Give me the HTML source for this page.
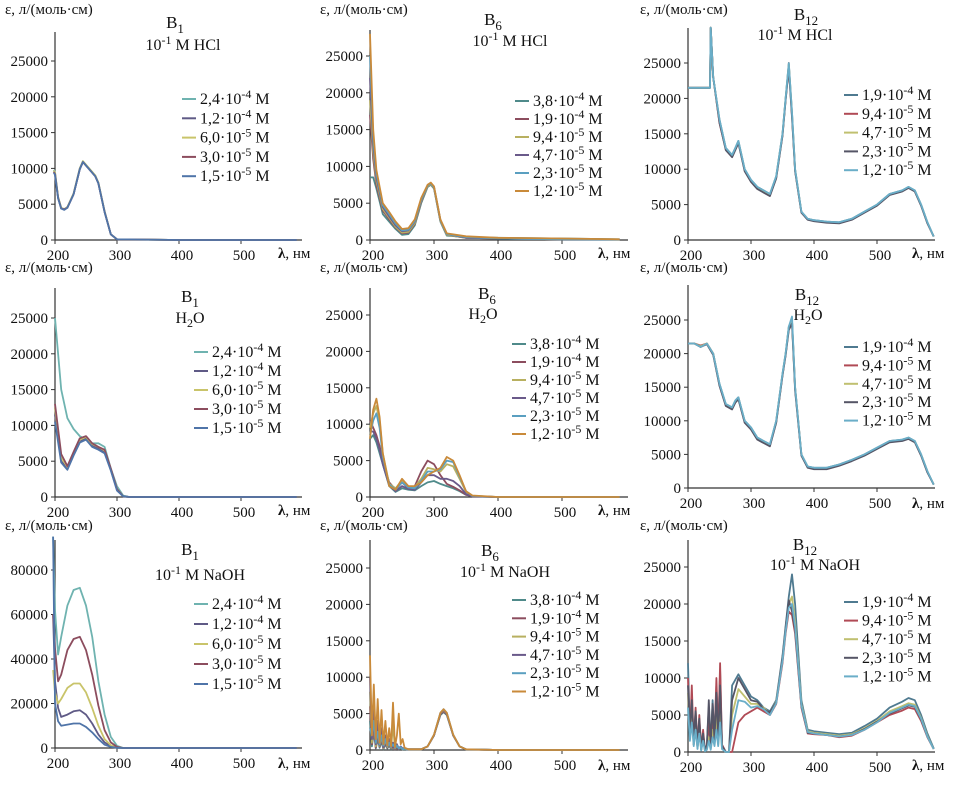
<!DOCTYPE html>
<html><head><meta charset="utf-8">
<style>
body{margin:0;background:#fff;}
svg{display:block;font-family:"Liberation Serif",serif;}
text{fill:#111;}
</style></head>
<body>
<svg id="chart" width="963" height="797" viewBox="0 0 963 797" xmlns="http://www.w3.org/2000/svg"></svg>
<script>
// ---------- DATA ----------
const xTicks = [200,300,400,500];
const yTicksStd = [0,5000,10000,15000,20000,25000];
const yTicksNaOH = [0,20000,40000,60000,80000];
const concB1 = ["2,4·10<tspan dy='-6' font-size='12'>-4</tspan><tspan dy='6'> M</tspan>","1,2·10<tspan dy='-6' font-size='12'>-4</tspan><tspan dy='6'> M</tspan>","6,0·10<tspan dy='-6' font-size='12'>-5</tspan><tspan dy='6'> M</tspan>","3,0·10<tspan dy='-6' font-size='12'>-5</tspan><tspan dy='6'> M</tspan>","1,5·10<tspan dy='-6' font-size='12'>-5</tspan><tspan dy='6'> M</tspan>"];
const concB6 = ["3,8·10<tspan dy='-6' font-size='12'>-4</tspan><tspan dy='6'> M</tspan>","1,9·10<tspan dy='-6' font-size='12'>-4</tspan><tspan dy='6'> M</tspan>","9,4·10<tspan dy='-6' font-size='12'>-5</tspan><tspan dy='6'> M</tspan>","4,7·10<tspan dy='-6' font-size='12'>-5</tspan><tspan dy='6'> M</tspan>","2,3·10<tspan dy='-6' font-size='12'>-5</tspan><tspan dy='6'> M</tspan>","1,2·10<tspan dy='-6' font-size='12'>-5</tspan><tspan dy='6'> M</tspan>"];
const concB12 = ["1,9·10<tspan dy='-6' font-size='12'>-4</tspan><tspan dy='6'> M</tspan>","9,4·10<tspan dy='-6' font-size='12'>-5</tspan><tspan dy='6'> M</tspan>","4,7·10<tspan dy='-6' font-size='12'>-5</tspan><tspan dy='6'> M</tspan>","2,3·10<tspan dy='-6' font-size='12'>-5</tspan><tspan dy='6'> M</tspan>","1,2·10<tspan dy='-6' font-size='12'>-5</tspan><tspan dy='6'> M</tspan>"];
const colB1 = ["#6fb3b0","#5f5a86","#c9c46a","#8c4d5e","#4f74a8"];
const colB6 = ["#4f8a8a","#8c4d5e","#b8b060","#6a5a8a","#5a9fc0","#c98a3a"];
const colB12 = ["#4f7a90","#b04a55","#c0c070","#555566","#6aaec8"];

// B1 HCl
const wlB1HCl = [198,200,205,210,215,220,230,240,245,250,260,265,270,280,290,300,350,400,500,590];
const sB1HCl = [
 [9800,9500,6000,4500,4300,4600,6500,10000,11000,10500,9500,9000,8000,4000,800,100,50,0,0,0],
 [9600,9300,5900,4400,4300,4600,6400,9900,10900,10400,9400,8900,7900,4000,800,100,50,0,0,0],
 [9700,9400,6000,4500,4300,4600,6500,10000,11000,10500,9500,9000,8000,4000,800,100,50,0,0,0],
 [9500,9200,5900,4400,4300,4500,6400,9900,10900,10400,9400,8900,7900,3900,800,100,50,0,0,0],
 [9400,9100,5800,4400,4200,4500,6400,9900,10900,10400,9400,8900,7900,3900,800,100,50,0,0,0]];
// B6 HCl
const wlB6HCl = [200,205,210,220,230,240,250,260,270,280,290,295,300,310,320,350,400,500,590];
const sB6HCl = [
 [8500,8500,7000,3500,2500,1500,700,800,2000,5000,7200,7500,7000,2500,600,400,300,200,100],
 [17000,11000,7500,4000,2800,1700,900,1000,2200,5200,7300,7600,7100,2600,700,300,200,100,50],
 [19000,12000,8000,4200,3000,1800,1000,1100,2300,5300,7300,7600,7100,2600,700,300,200,100,50],
 [22000,13000,8500,4500,3200,2000,1200,1300,2500,5400,7400,7700,7200,2700,800,300,200,100,50],
 [25000,14000,9000,4700,3500,2200,1300,1400,2600,5500,7400,7700,7200,2700,800,400,200,100,50],
 [28000,15000,9500,5000,3800,2500,1500,1600,2800,5700,7500,7800,7300,2800,900,500,300,200,100]];
// B12 HCl
const wlB12HCl = [200,210,220,230,235,236,240,250,260,270,275,280,290,300,310,320,330,340,350,355,360,365,370,380,390,400,420,440,460,480,500,520,540,550,560,570,580,590];
const sB12HCl = [
 [21500,21500,21500,21500,21500,30000,23000,17000,13000,12000,13000,14000,10000,8500,7500,7000,6500,9000,15000,20000,25000,18000,10000,4000,3000,2800,2600,2500,3000,4000,5000,6500,7000,7500,7000,5000,2500,500],
 [21500,21500,21500,21500,21500,30000,23000,16500,12800,11800,12800,13800,9800,8300,7300,6800,6300,8800,14800,19800,24500,17500,9800,3900,2900,2700,2500,2400,2900,3900,4900,6400,6900,7400,6900,4900,2400,500],
 [21500,21500,21500,21500,21500,30000,23000,16800,12900,11900,12900,13900,9900,8400,7400,6900,6400,8900,14900,19900,24800,17800,9900,3950,2950,2750,2550,2450,2950,3950,4950,6450,6950,7450,6950,4950,2450,500],
 [21500,21500,21500,21500,21500,30000,23000,16600,12700,11700,12700,13700,9700,8200,7200,6700,6200,8700,14700,19700,24300,17300,9700,3850,2850,2650,2450,2350,2850,3850,4850,6350,6850,7350,6850,4850,2350,500],
 [21500,21500,21500,21500,21500,30000,23000,17000,13000,12000,13000,14000,10000,8500,7500,7000,6500,9000,15000,20000,24900,18000,10000,4000,3000,2800,2600,2500,3000,4000,5000,6500,7000,7500,7000,5000,2500,500]];
// B1 H2O
const wlB1H2O = [200,210,220,230,240,250,260,270,280,290,300,310,320,400,590];
const sB1H2O = [
 [25000,15000,11000,9500,8500,8000,7500,7500,7000,4000,1500,200,0,0,0],
 [11500,5000,4000,6000,7800,8200,7200,6800,6300,3800,1000,100,0,0,0],
 [12500,5500,4200,6200,8000,8400,7400,7000,6500,3900,1000,100,0,0,0],
 [13000,6000,4300,6300,8200,8500,7500,7000,6600,4000,1100,100,0,0,0],
 [10500,4800,3800,5800,7600,8000,7000,6600,6100,3700,900,100,0,0,0]];
// B6 H2O
const wlB6H2O = [200,205,210,215,220,230,240,250,260,270,280,290,300,310,320,330,340,350,360,400,590];
const sB6H2O = [
 [8000,8500,7500,6000,4500,1500,700,1200,1000,900,1500,2000,2200,1800,1500,1200,800,300,100,0,0],
 [10500,9500,8500,7000,5000,2000,1000,2000,1200,1500,3500,5000,4500,3000,1800,1400,900,300,100,0,0],
 [9500,11500,12500,10500,6000,1800,1200,2300,1400,1400,2500,4000,3800,3500,4500,4200,2500,700,150,0,0],
 [9000,9000,8000,6500,4500,1600,800,1500,1100,1000,2000,3000,3000,2500,2500,2200,1500,400,100,0,0],
 [8500,10500,11500,9500,5500,1700,1000,2000,1300,1200,2200,3500,3500,3800,5000,4800,2800,800,150,0,0],
 [8000,12000,13500,11000,6000,1500,1000,2500,1500,1500,2000,3000,3500,4000,5500,5000,3000,800,200,0,0]];
// B12 H2O
const wlB12H2O = [200,210,220,230,240,250,260,270,275,280,290,300,310,320,330,340,350,355,360,365,370,380,390,400,420,440,460,480,500,520,540,550,560,570,580,590];
const sB12H2O = [
 [21500,21500,21000,21500,20000,15500,12500,12000,13000,13500,10000,9000,7500,7000,6500,10000,17000,20000,24000,25000,15000,5000,3200,3000,3000,3500,4200,5000,6000,7000,7200,7500,7000,5000,2500,500],
 [21500,21500,21200,21500,20000,15300,12300,11800,12800,13300,9800,8800,7300,6800,6300,9800,16800,19800,23800,24800,14800,4900,3100,2900,2900,3400,4100,4900,5900,6900,7100,7400,6900,4900,2400,500],
 [21500,21500,21100,21500,20000,15400,12400,11900,12900,13400,9900,8900,7400,6900,6400,9900,16900,19900,23900,24900,14900,4950,3150,2950,2950,3450,4150,4950,5950,6950,7150,7450,6950,4950,2450,500],
 [21500,21500,21000,21400,19800,15200,12200,11700,12700,13200,9700,8700,7200,6700,6200,9700,16700,19700,23500,24500,14500,4800,3000,2800,2800,3300,4000,4800,5800,6800,7000,7300,6800,4800,2300,500],
 [21500,21500,21000,21500,20000,15500,12500,12000,13000,13500,10000,9000,7500,7000,6500,10000,17000,20000,24000,25500,15000,5000,3200,3000,3000,3500,4200,5000,6000,7000,7200,7500,7000,5000,2500,500]];
// B1 NaOH
const wlB1NaOH = [197,200,205,210,220,230,240,250,260,270,280,290,300,310,400,590];
const sB1NaOH = [
 [95000,62000,42000,50000,64000,71000,72000,64000,50000,30000,15000,5000,1000,0,0,0],
 [60000,30000,18000,14000,15000,16500,17000,15000,11000,6000,2500,800,200,0,0,0],
 [35000,25000,20000,22000,27000,29000,29000,25000,18000,10000,4000,1200,300,0,0,0],
 [60000,45000,30000,33000,44000,49000,50000,44000,33000,19000,8000,2500,500,0,0,0],
 [95000,20000,12000,10000,10500,11000,11000,9500,7000,4000,1500,500,100,0,0,0]];
// B6 NaOH
const wlB6NaOH = [200,203,206,209,212,215,218,221,224,227,230,233,236,239,242,245,248,251,254,257,260,270,280,290,300,310,315,320,330,340,350,400,590];
const sB6NaOH = [
 [4000,500,2500,200,1500,300,1200,100,800,200,600,100,400,100,300,100,200,100,100,100,100,100,100,500,2000,4800,5200,4800,2000,500,100,0,0],
 [6000,800,3000,300,2000,500,1500,200,1000,300,800,200,500,100,400,100,300,100,200,100,100,100,100,500,2000,4900,5300,4900,2000,500,100,0,0],
 [8000,1000,5000,500,3000,600,2000,300,1500,400,1000,300,3500,200,600,200,400,100,200,100,100,100,100,500,2000,5000,5400,5000,2000,500,100,0,0],
 [10000,1500,6000,800,4000,700,3000,400,2000,500,1500,400,1000,300,800,200,500,200,300,100,100,100,100,500,2000,5000,5500,5000,2000,500,100,0,0],
 [3000,2000,4000,1000,2500,800,2000,600,1500,500,1000,400,800,300,600,200,400,100,200,100,100,100,100,500,2100,5100,5600,5100,2100,500,100,0,0],
 [13000,2000,9000,1500,7000,1000,5500,800,4000,600,3000,500,6500,400,2000,5000,800,1500,300,200,100,100,100,500,2100,5100,5600,5100,2100,500,100,0,0]];
// B12 NaOH
const wlB12NaOH = [200,203,206,209,212,215,218,221,224,227,230,233,236,239,242,245,248,251,254,260,265,270,280,290,300,310,320,330,340,350,355,360,365,370,380,390,400,420,440,460,480,500,520,540,550,560,570,580,590];
const sB12NaOH = [
 [12000,3000,6000,1000,5000,500,4000,300,2000,200,1000,6000,1000,7000,2000,9000,2000,11000,1000,0,0,9000,10500,9000,7500,7000,6000,5500,7000,13000,17000,21000,24000,20000,7000,3000,2800,2600,2400,2600,3500,4500,6000,6800,7300,7000,5000,2500,500],
 [10000,2000,9000,1000,6000,500,5000,300,3000,200,500,4000,500,5000,1500,10000,2000,12000,1000,0,0,0,4000,5000,5500,6000,5500,5000,6500,12000,16000,19000,18500,16000,6000,2500,2400,2300,2000,2200,3000,4000,5000,5600,6000,5800,4200,2000,400],
 [8000,2000,5000,1000,4000,500,3000,300,2000,200,500,2000,500,3000,1000,5000,1000,6000,500,0,0,5000,8500,7500,6500,6500,6000,5200,6800,12500,16500,20000,21000,17500,6500,2800,2600,2400,2200,2400,3200,4200,5500,6200,6600,6400,4600,2200,400],
 [9000,2500,7000,1500,5500,800,4500,500,2500,300,800,7000,800,6500,1500,8000,1500,9000,800,0,0,7000,10000,8500,7000,6800,5800,5300,6700,12700,16700,20500,19000,16500,6200,2600,2500,2300,2100,2300,3100,4100,5200,5900,6300,6100,4400,2100,400],
 [6000,1500,4000,800,3000,400,2500,200,1500,100,300,1500,300,2000,800,3000,800,4000,400,0,0,3000,7000,6800,6000,6200,5800,5000,6600,12300,16300,19500,20000,17000,6300,2700,2500,2300,2100,2300,3000,4000,5300,6000,6400,6200,4500,2100,400]];

// ---------- PANELS ----------
const panels = [
 {name:"b1-hcl",wl:wlB1HCl,s:sB1HCl,cols:colB1,leg:concB1,x0:55,kx:62,y0:240,yT:61,vT:25000,yticks:yTicksStd,xEnd:302,aTop:32,sub:"1",solv:"hcl",tx:175,ty:28,sx:183,sy:50,lx:200,ly:104,ld:19.3,yl:[5,14],xl:[278,258]},
 {name:"b6-hcl",wl:wlB6HCl,s:sB6HCl,cols:colB6,leg:concB6,x0:370,kx:64,y0:240,yT:56,vT:25000,yticks:yTicksStd,xEnd:628,aTop:30,sub:"6",solv:"hcl",tx:493,ty:25,sx:510,sy:46,lx:533,ly:106,ld:18,yl:[320,14],xl:[598,258]},
 {name:"b12-hcl",wl:wlB12HCl,s:sB12HCl,cols:colB12,leg:concB12,x0:688,kx:63,y0:240,yT:63,vT:25000,yticks:yTicksStd,xEnd:935,aTop:28,sub:"12",solv:"hcl",tx:806,ty:20,sx:795,sy:40,lx:862,ly:100,ld:18.8,yl:[640,14],xl:[912,258]},
 {name:"b1-h2o",wl:wlB1H2O,s:sB1H2O,cols:colB1,leg:concB1,x0:55,kx:62,y0:497,yT:318,vT:25000,yticks:yTicksStd,xEnd:302,aTop:288,sub:"1",solv:"h2o",tx:190,ty:302,sx:190,sy:323,lx:212,ly:357,ld:19,yl:[5,272],xl:[278,515]},
 {name:"b6-h2o",wl:wlB6H2O,s:sB6H2O,cols:colB6,leg:concB6,x0:370,kx:64,y0:497,yT:315,vT:25000,yticks:yTicksStd,xEnd:628,aTop:288,sub:"6",solv:"h2o",tx:487,ty:299,sx:483,sy:319,lx:530,ly:349,ld:18,yl:[320,272],xl:[598,515]},
 {name:"b12-h2o",wl:wlB12H2O,s:sB12H2O,cols:colB12,leg:concB12,x0:688,kx:63,y0:488,yT:320,vT:25000,yticks:yTicksStd,xEnd:935,aTop:285,sub:"12",solv:"h2o",tx:807,ty:300,sx:808,sy:320,lx:862,ly:352,ld:18.4,yl:[640,272],xl:[912,508]},
 {name:"b1-naoh",wl:wlB1NaOH,s:sB1NaOH,cols:colB1,leg:concB1,x0:55,kx:62,y0:748,yT:570,vT:80000,yticks:yTicksNaOH,xEnd:302,aTop:540,sub:"1",solv:"naoh",tx:190,ty:555,sx:200,sy:580,lx:212,ly:609,ld:20,yl:[5,530],xl:[278,768]},
 {name:"b6-naoh",wl:wlB6NaOH,s:sB6NaOH,cols:colB6,leg:concB6,x0:370,kx:64,y0:750,yT:568,vT:25000,yticks:yTicksStd,xEnd:628,aTop:540,sub:"6",solv:"naoh",tx:490,ty:556,sx:505,sy:577,lx:530,ly:605,ld:18.3,yl:[320,530],xl:[598,770]},
 {name:"b12-naoh",wl:wlB12NaOH,s:sB12NaOH,cols:colB12,leg:concB12,x0:688,kx:63,y0:752,yT:567,vT:25000,yticks:yTicksStd,xEnd:935,aTop:540,sub:"12",solv:"naoh",tx:805,ty:550,sx:815,sy:570,lx:862,ly:607,ld:18.6,yl:[640,530],xl:[912,770]}
];

const NS="http://www.w3.org/2000/svg";
const svg=document.getElementById('chart');
function mk(tag,attrs,parent){const e=document.createElementNS(NS,tag);for(const k in attrs)e.setAttribute(k,attrs[k]);parent.appendChild(e);return e;}

panels.forEach(p=>{
  const g=mk('g',{},svg);
  
  
  const X=w=>p.x0+(w-200)*p.kx/100;
  const Y=v=>p.y0-(v/p.vT)*(p.y0-p.yT);
  const cid='clip-'+p.name;
  const cp=mk('clipPath',{id:cid},g);
  mk('rect',{x:p.x0-6,y:p.aTop-6,width:p.xEnd-p.x0+10,height:p.y0-p.aTop+7},cp);
  const ya=mk('line',{x1:p.x0,y1:p.aTop,x2:p.x0,y2:p.y0,stroke:'#333','stroke-width':1.2},g);
  
  
  const xa=mk('line',{x1:p.x0,y1:p.y0,x2:p.xEnd,y2:p.y0,stroke:'#333','stroke-width':1.2},g);
  
  
  p.yticks.forEach(v=>{
    mk('line',{x1:p.x0-4,y1:Y(v),x2:p.x0,y2:Y(v),stroke:'#333'},g);
    const t=mk('text',{x:p.x0-7,y:Y(v)+5,'text-anchor':'end','font-size':15},g);
    t.textContent=v;
    
    
  });
  xTicks.forEach(w=>{
    mk('line',{x1:X(w),y1:p.y0,x2:X(w),y2:p.y0+4,stroke:'#333'},g);
    const t=mk('text',{x:X(w)+3,y:p.y0+20,'text-anchor':'middle','font-size':15},g);
    t.textContent=w;
    
    
  });
  const sg=mk('g',{'clip-path':'url(#'+cid+')'},g);
  p.s.forEach((vals,i)=>{
    const d=vals.map((v,j)=>(j?'L':'M')+X(p.wl[j]).toFixed(1)+','+Y(v).toFixed(1)).join(' ');
    const path=mk('path',{d:d,fill:'none',stroke:p.cols[i],'stroke-width':1.8,'stroke-linejoin':'round'},sg);
    
    
  });
  const yl=mk('text',{x:p.yl[0],y:p.yl[1],'font-size':15},g);
  yl.textContent='ε, л/(моль·см)';
  
  
  const xl=mk('text',{x:p.xl[0],y:p.xl[1],'font-size':15},g);
  xl.innerHTML='<tspan font-weight="bold">λ</tspan>, нм';
  
  
  const tt=mk('text',{x:p.tx,y:p.ty,'font-size':17,'text-anchor':'middle'},g);
  tt.innerHTML='B<tspan dy="5" font-size="13">'+p.sub+'</tspan>';
  
  
  const st=mk('text',{x:p.sx,y:p.sy,'font-size':16,'text-anchor':'middle'},g);
  if(p.solv==='h2o') st.innerHTML='H<tspan dy="4" font-size="12">2</tspan><tspan dy="-4">O</tspan>';
  else st.innerHTML='10<tspan dy="-6" font-size="12">-1</tspan><tspan dy="6"> M '+(p.solv==='hcl'?'HCl':'NaOH')+'</tspan>';
  
  
  p.leg.forEach((lab,i)=>{
    const ly=p.ly+i*p.ld;
    const ll=mk('line',{x1:p.lx-18,y1:ly-5,x2:p.lx-4,y2:ly-5,stroke:p.cols[i],'stroke-width':2},g);
    
    
    const lt=mk('text',{x:p.lx,y:ly,'font-size':16},g);
    lt.innerHTML=lab;
    
    
  });
});
</script>
</body></html>
